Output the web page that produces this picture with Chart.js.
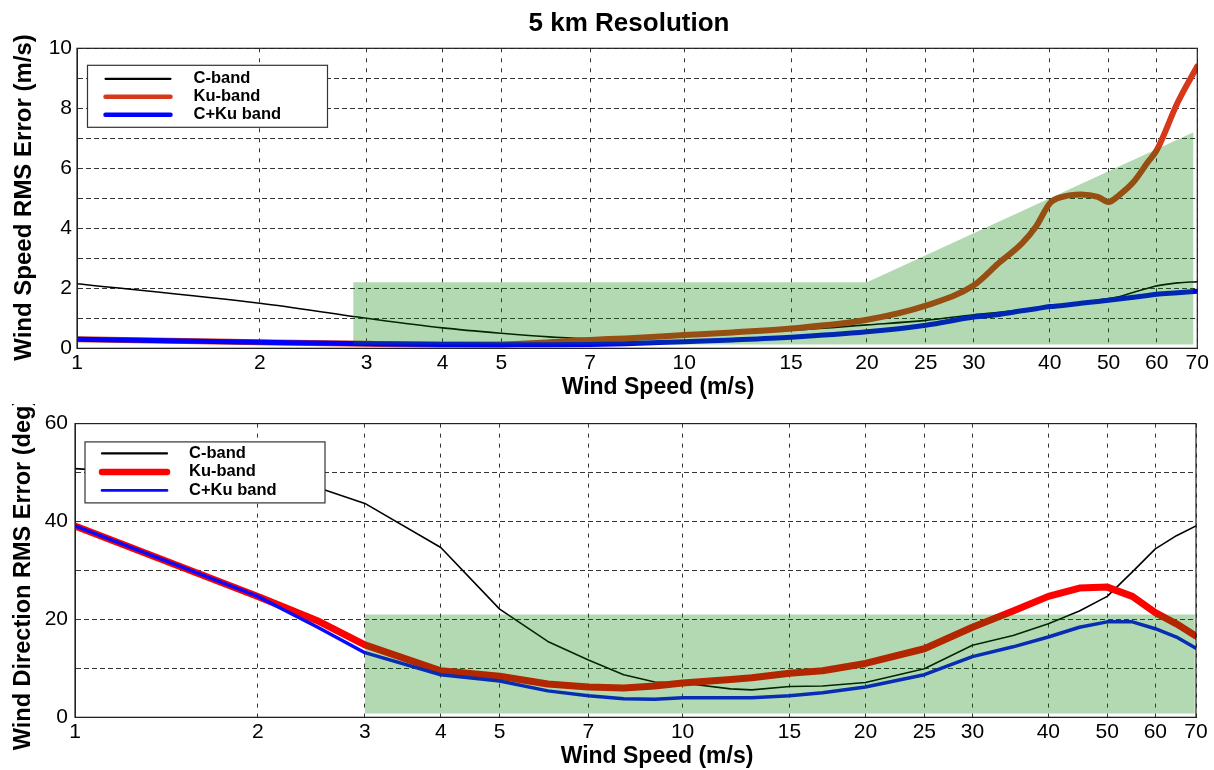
<!DOCTYPE html>
<html>
<head>
<meta charset="utf-8">
<title>5 km Resolution</title>
<script src="https://cdn.jsdelivr.net/npm/chart.js@4.4.1/dist/chart.umd.min.js"></script>
<style>
    html, body { margin: 0; padding: 0; background: #fff; }
    #wrap { position: relative; width: 1214px; height: 770px; overflow: hidden; }
    #speedChart { position: absolute; left: 0; top: 0; }
    #dirChart { position: absolute; left: 0; top: 404px; }
</style>
</head>
<body>
<div id="wrap">
    <canvas id="speedChart" width="1214" height="402"></canvas>
    <canvas id="dirChart" width="1214" height="366"></canvas>
</div>
<script>
// wind speed tick marks shared by both panels (log axis)
const speedTicks = [1, 2, 3, 4, 5, 7, 10, 15, 20, 25, 30, 40, 50, 60, 70];

// --- wind speed RMS error (m/s) ---
const speedTop = [1, 2, 3, 4, 5, 6, 7, 8, 10, 12, 15, 20, 25, 30, 33, 36, 38, 40, 42, 45, 48, 50, 52, 55, 58, 60, 65, 70];
const cBandSpeedErr = [2.15, 1.5, 1.0, 0.68, 0.5, 0.38, 0.32, 0.33, 0.42, 0.5, 0.6, 0.78, 0.93, 1.12, 1.2, 1.28, 1.33, 1.38, 1.43, 1.52, 1.6, 1.66, 1.72, 1.87, 2.0, 2.08, 2.18, 2.22];
const kuBandSpeedErr = [0.3, 0.2, 0.15, 0.13, 0.13, 0.2, 0.28, 0.33, 0.44, 0.53, 0.66, 0.95, 1.42, 2.1, 2.85, 3.5, 4.07, 4.83, 5.05, 5.13, 5.05, 4.88, 5.1, 5.55, 6.2, 6.6, 8.2, 9.4];
const ckuSpeedErr = [0.3, 0.2, 0.15, 0.13, 0.12, 0.12, 0.13, 0.15, 0.22, 0.28, 0.37, 0.55, 0.77, 1.04, 1.13, 1.25, 1.32, 1.39, 1.43, 1.5, 1.56, 1.6, 1.64, 1.7, 1.76, 1.8, 1.85, 1.9];
// shaded requirement band
const speedBandX = [2.85, 20, 69];
const speedBandY = [2.2, 2.2, 7.2];
const speedBandFloor = 0.13;

// --- wind direction RMS error (deg) ---
const speedBottom = [1, 2, 2.3, 2.5, 3, 4, 5, 6, 7, 8, 9, 10, 12, 13, 15, 17, 20, 25, 30, 35, 40, 45, 50, 55, 60, 65, 70];
const cBandDirErr = [50.8, 48.5, 47.8, 47, 43.7, 34.7, 22.1, 15.5, 11.7, 8.7, 7.2, 7.0, 5.8, 5.6, 6.3, 6.4, 7.1, 9.9, 14.7, 16.7, 19.1, 21.7, 24.7, 29.7, 34.4, 37.1, 39.1];
const kuBandDirErr = [39.1, 24.7, 21.6, 19.8, 14.8, 9.5, 8.4, 6.8, 6.2, 6.0, 6.4, 7.0, 7.7, 8.1, 9.0, 9.5, 11.0, 14.0, 18.4, 21.7, 24.7, 26.4, 26.6, 24.7, 21.4, 19.1, 16.6];
const ckuDirErr = [39.1, 24.7, 20.8, 18.5, 13.2, 8.7, 7.4, 5.4, 4.4, 3.8, 3.7, 4.0, 4.0, 4.0, 4.4, 5.0, 6.2, 8.7, 12.4, 14.4, 16.4, 18.4, 19.5, 19.5, 18.1, 16.4, 14.1];
const dirBandX = [3, 69.7];
const dirBandY = [21, 21];
const dirBandFloor = 0.8;

const FONT = '"Liberation Sans", Arial, Helvetica, sans-serif';
Chart.defaults.font.family = FONT;
Chart.defaults.color = "#000";

function toPoints(xs, ys) {
    return xs.map((x, i) => ({ x: x, y: ys[i] }));
}

function lineSet(label, xs, ys, color, width, legendWidth, order, smooth) {
    return {
        label: label,
        data: toPoints(xs, ys),
        borderColor: color,
        backgroundColor: color,
        borderWidth: width,
        legendWidth: legendWidth,
        pointRadius: 0,
        fill: false,
        order: order,
        tension: smooth ? 0.4 : 0,
        cubicInterpolationMode: smooth ? "monotone" : "default",
        borderCapStyle: "round",
        borderJoinStyle: "round"
    };
}

// semi-transparent band drawn above the curves (lowest order = drawn last)
function bandSet(xs, ys, floor) {
    return {
        label: "",
        data: toPoints(xs, ys),
        borderColor: "rgba(0,0,0,0)",
        borderWidth: 0,
        backgroundColor: "rgba(0,128,0,0.3)",
        pointRadius: 0,
        fill: { value: floor },
        order: 0,
        tension: 0
    };
}

// plot frame on top of everything
const framePlugin = {
    id: "frame",
    afterDatasetsDraw(chart) {
        const { ctx, chartArea: a } = chart;
        ctx.save();
        ctx.strokeStyle = "#222";
        ctx.lineWidth = 1.2;
        ctx.strokeRect(a.left, a.top, a.right - a.left, a.bottom - a.top);
        ctx.restore();
    }
};

// boxed legend in the upper left of the plot area
const boxLegend = {
    id: "boxLegend",
    afterDatasetsDraw(chart, args, opts) {
        const { ctx, chartArea: a } = chart;
        const left = a.left + opts.dx;
        const top = a.top + opts.dy;
        ctx.save();
        ctx.fillStyle = "#fff";
        ctx.fillRect(left, top, opts.width, opts.height);
        ctx.strokeStyle = "#333";
        ctx.lineWidth = 1.2;
        ctx.strokeRect(left, top, opts.width, opts.height);
        ctx.font = "bold " + opts.fontSize + "px " + FONT;
        ctx.textBaseline = "middle";
        ctx.textAlign = "left";
        let row = 0;
        chart.data.datasets.forEach(ds => {
            if (!ds.label) return;
            const y = top + opts.rows[row];
            ctx.strokeStyle = ds.borderColor;
            ctx.lineWidth = ds.legendWidth;
            ctx.lineCap = "round";
            ctx.beginPath();
            ctx.moveTo(left + opts.lineFrom, y);
            ctx.lineTo(left + opts.lineTo, y);
            ctx.stroke();
            ctx.fillStyle = "#000";
            ctx.fillText(ds.label, left + opts.textX, y);
            row++;
        });
        ctx.restore();
    }
};

// figure title and axis titles placed freely
const axisTitles = {
    id: "axisTitles",
    afterDraw(chart, args, opts) {
        const ctx = chart.ctx;
        opts.items.forEach(t => {
            ctx.save();
            ctx.font = "bold " + t.size + "px " + FONT;
            ctx.fillStyle = "#000";
            ctx.textAlign = "center";
            ctx.textBaseline = "middle";
            ctx.translate(t.x, t.y);
            if (t.vertical) ctx.rotate(-Math.PI / 2);
            ctx.fillText(t.text, 0, 0);
            ctx.restore();
        });
    }
};

function speedAxis(boxHeight) {
    return {
        type: "logarithmic",
        min: 1,
        max: 70,
        afterBuildTicks: axis => {
            axis.ticks = speedTicks.map(v => ({ value: v }));
        },
        afterFit: scale => {
            scale.height = boxHeight;
        },
        ticks: {
            autoSkip: false,
            maxRotation: 0,
            minRotation: 0,
            padding: 2,
            font: { size: 21 },
            callback: v => String(v)
        },
        grid: { color: "rgba(0,0,0,0.8)", lineWidth: 1, drawTicks: false },
        border: { display: true, color: "#222", dash: [4, 6] }
    };
}

function errorAxis(max, step, labelStep, boxWidth, pad) {
    return {
        min: 0,
        max: max,
        afterFit: scale => {
            scale.width = boxWidth;
        },
        ticks: {
            stepSize: step,
            padding: pad,
            font: { size: 21 },
            callback: v => (v % labelStep === 0 ? String(v) : "")
        },
        grid: { color: "rgba(0,0,0,0.8)", lineWidth: 1, drawTicks: false },
        border: { display: true, color: "#222", dash: [5, 3] }
    };
}

const speedChart = new Chart(document.getElementById("speedChart"), {
    type: "line",
    data: {
        datasets: [
            lineSet("C-band", speedTop, cBandSpeedErr, "#000000", 1.6, 2.2, 3, true),
            lineSet("Ku-band", speedTop, kuBandSpeedErr, "#d8381a", 6, 4.5, 2, true),
            lineSet("C+Ku band", speedTop, ckuSpeedErr, "#0000ff", 5, 4.5, 1, true),
            bandSet(speedBandX, speedBandY, speedBandFloor)
        ]
    },
    options: {
        responsive: false,
        animation: false,
        layout: { padding: { left: 0, right: 16.7, top: 48.3, bottom: 0 } },
        plugins: {
            legend: { display: false },
            tooltip: { enabled: false },
            title: { display: false },
            boxLegend: {
                dx: 10.5, dy: 17, width: 240, height: 62,
                rows: [13.5, 31.5, 49.5],
                lineFrom: 18, lineTo: 83, textX: 106, fontSize: 16.5
            },
            axisTitles: {
                items: [
                    { text: "5 km Resolution", x: 629, y: 24, size: 26 },
                    { text: "Wind Speed RMS Error (m/s)", x: 24, y: 197.5, size: 24, vertical: true },
                    { text: "Wind Speed (m/s)", x: 658, y: 388, size: 23 }
                ]
            }
        },
        scales: {
            x: speedAxis(53.7),
            y: errorAxis(10, 1, 2, 77, 5)
        }
    },
    plugins: [framePlugin, boxLegend, axisTitles]
});

const dirChart = new Chart(document.getElementById("dirChart"), {
    type: "line",
    data: {
        datasets: [
            lineSet("C-band", speedBottom, cBandDirErr, "#000000", 1.6, 2.2, 3, false),
            lineSet("Ku-band", speedBottom, kuBandDirErr, "#ff0000", 7, 6.5, 2, false),
            lineSet("C+Ku band", speedBottom, ckuDirErr, "#0a0aff", 3.5, 2.6, 1, false),
            bandSet(dirBandX, dirBandY, dirBandFloor)
        ]
    },
    options: {
        responsive: false,
        animation: false,
        layout: { padding: { left: 0, right: 18, top: 12.7, bottom: 0 } },
        plugins: {
            legend: { display: false },
            tooltip: { enabled: false },
            boxLegend: {
                dx: 10, dy: 18.3, width: 240, height: 61,
                rows: [11.5, 30, 48.5],
                lineFrom: 17, lineTo: 82, textX: 104, fontSize: 16.5
            },
            axisTitles: {
                items: [
                    { text: "Wind Direction RMS Error (deg)", x: 24, y: 170, size: 23.5, vertical: true },
                    { text: "Wind Speed (m/s)", x: 657, y: 352.5, size: 23 }
                ]
            }
        },
        scales: {
            x: speedAxis(52.7),
            y: errorAxis(60, 10, 20, 75, 7)
        }
    },
    plugins: [framePlugin, boxLegend, axisTitles]
});
</script>
</body>
</html>
